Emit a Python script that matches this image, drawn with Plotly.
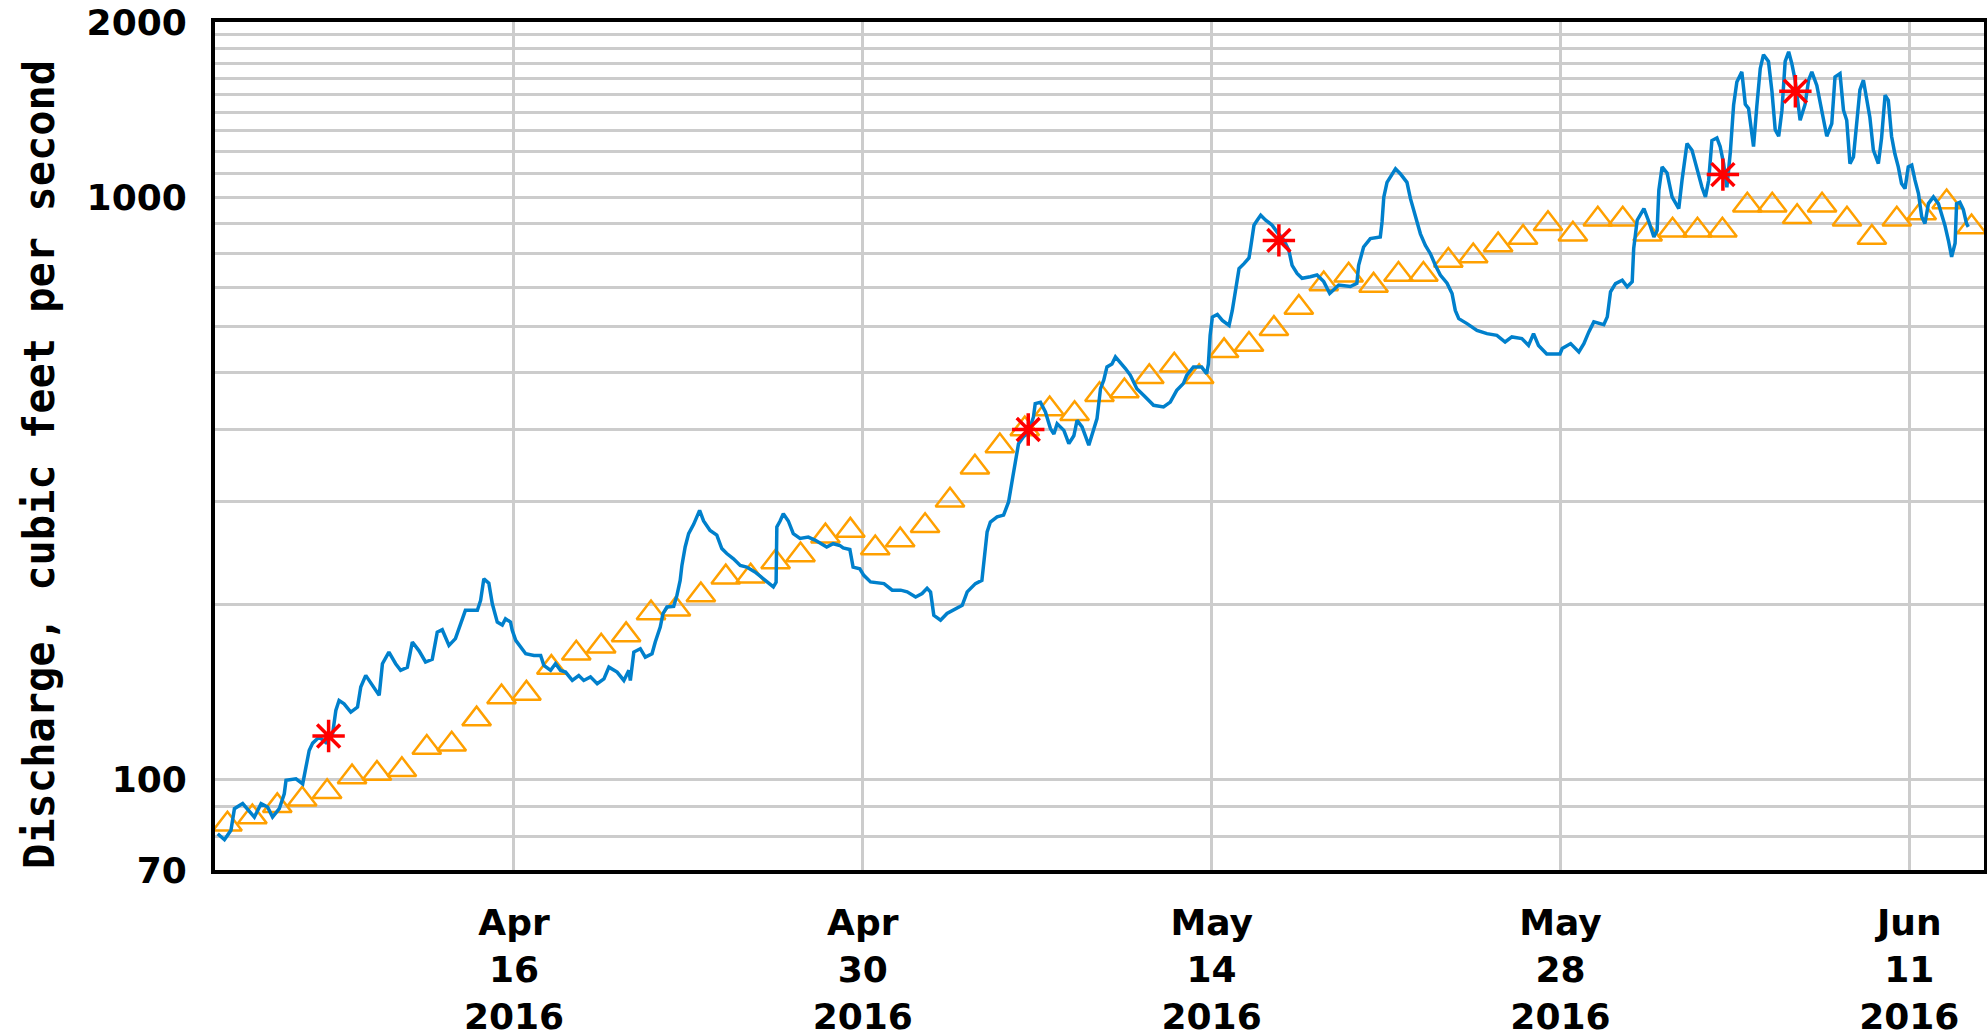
import math
import pandas as pd
import plotly.graph_objects as go

# ---------------- data ----------------
start_date = pd.Timestamp("2016-04-04")

# instantaneous discharge: time in days after start_date, value in cfs
flow_day = [
    0.11, 0.38, 0.64, 0.78, 1.11, 1.38, 1.58, 1.85, 2.11, 2.31, 2.58, 2.78, 2.85, 3.25, 3.52, 3.65,
    3.78, 3.92, 4.18, 4.45, 4.72, 4.85, 4.98, 5.18, 5.45, 5.72, 5.85, 6.05, 6.32, 6.59, 6.72, 6.98,
    7.25, 7.45, 7.72, 7.92, 8.19, 8.45, 8.72, 8.92, 9.12, 9.39, 9.65, 9.85, 10.05, 10.53, 10.66, 10.79,
    10.99, 11.13, 11.33, 11.53, 11.66, 11.86, 11.93, 12.07, 12.27, 12.47, 12.8, 13.07, 13.2, 13.47,
    13.67, 13.87, 14.07, 14.34, 14.6, 14.8, 15.07, 15.34, 15.61, 15.81, 16.14, 16.41, 16.61, 16.67,
    16.81, 17.07, 17.27, 17.54, 17.67, 17.87, 17.98, 18.14, 18.41, 18.54, 18.67, 18.74, 18.87, 19.01,
    19.21, 19.45, 19.61, 19.87, 20.14, 20.34, 20.54, 20.81, 21.08, 21.34, 21.67, 22.01, 22.21, 22.41,
    22.52, 22.55, 22.68, 22.81, 23.01, 23.21, 23.48, 23.81, 24.08, 24.35, 24.55, 24.81, 25.08, 25.21,
    25.48, 25.61, 25.88, 26.04, 26.31, 26.85, 27.18, 27.52, 27.78, 28.12, 28.38, 28.58, 28.72, 28.85,
    29.12, 29.38, 29.65, 29.99, 30.19, 30.52, 30.78, 30.88, 30.99, 31.12, 31.39, 31.65, 31.85, 32.02,
    32.12, 32.25, 32.45, 32.65, 32.85, 32.92, 33.13, 33.33, 33.53, 33.67, 33.8, 34.07, 34.27, 34.47,
    34.6, 34.8, 35.07, 35.27, 35.4, 35.54, 35.67, 35.8, 36.0, 36.14, 36.34, 36.54, 36.74, 37.0,
    37.27, 37.67, 38.07, 38.34, 38.6, 38.87, 39.0, 39.27, 39.6, 39.8, 39.87, 39.94, 40.03, 40.23,
    40.43, 40.7, 40.83, 40.97, 41.1, 41.3, 41.5, 41.57, 41.7, 41.83, 41.97, 42.17, 42.43, 42.63,
    42.9, 43.1, 43.23, 43.43, 43.63, 43.96, 44.23, 44.5, 44.74, 44.9, 45.1, 45.57, 45.83, 45.9,
    46.1, 46.37, 46.77, 46.84, 46.91, 47.04, 47.24, 47.38, 47.58, 47.84, 47.98, 48.18, 48.38, 48.58,
    48.78, 48.98, 49.18, 49.45, 49.65, 49.78, 49.92, 50.25, 50.65, 51.05, 51.45, 51.78, 52.05, 52.45,
    52.72, 52.92, 53.12, 53.45, 53.98, 54.07, 54.41, 54.74, 54.94, 55.14, 55.34, 55.74, 55.88, 56.01,
    56.21, 56.48, 56.68, 56.88, 56.94, 57.08, 57.35, 57.55, 57.75, 57.88, 57.95, 58.08, 58.28, 58.48,
    58.75, 58.88, 59.08, 59.28, 59.48, 59.68, 59.82, 59.95, 60.08, 60.28, 60.41, 60.55, 60.68, 60.82,
    60.95, 61.08, 61.28, 61.42, 61.55, 61.69, 61.75, 61.88, 62.02, 62.15, 62.35, 62.49, 62.62, 62.76,
    62.89, 63.02, 63.16, 63.29, 63.42, 63.62, 63.82, 63.96, 64.09, 64.29, 64.49, 64.69, 64.89, 65.02,
    65.22, 65.36, 65.49, 65.62, 65.76, 65.89, 66.02, 66.16, 66.29, 66.42, 66.56, 66.76, 66.89, 67.03,
    67.16, 67.29, 67.42, 67.56, 67.69, 67.83, 67.96, 68.1, 68.23, 68.37, 68.5, 68.63, 68.77, 68.97,
    69.17, 69.43, 69.57, 69.7, 69.84, 69.9, 70.03, 70.17, 70.3, 70.37,
]
flow_cfs = [
    80.8, 78.9, 81.9, 89.2, 91, 88.2, 86.3, 91, 89.8, 86.3, 89.2, 94.6, 99.8, 100.4, 98.4, 105.1,
    112.3, 115.6, 118.4, 115.9, 119.9, 131.5, 136.8, 135, 130.7, 133.3, 144.3, 151.1, 145, 139.6, 158.2, 165.6,
    158.2, 154.1, 156, 172.4, 166.5, 159.3, 161, 179.3, 181, 170.1, 174.7, 185.3, 195.4, 195.4, 203.2, 221.3,
    217.5, 200.5, 186.5, 184.4, 189, 186.5, 180.5, 173.5, 169, 164.6, 163.5, 163.5, 157.2, 154.1,
    158.3, 154.1, 153.1, 148.1, 151, 148.1, 150.2, 146.2, 149, 156.1, 153.1, 148.1, 154.1, 148.1,
    165.7, 167.9, 162.4, 164.6, 172.4, 182.9, 192.8, 198, 198.5, 207.3, 220, 233.4, 251, 264.6,
    274.5, 290.1, 278.2, 268, 263, 249.5, 244.6, 239.6, 233.4, 231.9, 227.4, 221.4, 217, 214.4,
    218.3, 271.6, 278.2, 286.3, 278.2, 264.6, 259.7, 261, 258, 254.3, 251, 254.3, 252.5, 250,
    248.5, 231.8, 230.3, 224.4, 218.6, 217.2, 211.6, 211.6, 210.2, 206, 208.8, 213.1, 210, 191.6,
    187.9, 193, 195.5, 199.3, 210.2, 217.2, 220, 239.7, 266.4, 277, 282.7, 284.7, 299.9, 331.1,
    353.5, 377.7, 388, 395, 419.7, 442.4, 444.9, 428.2, 400.8, 392.3, 408.6, 398, 377.7, 389.6,
    414, 403.4, 375.3, 398, 416.9, 469.4, 485.3, 511.5, 517.4, 532.2, 520.5, 508.2, 494.8, 469.4,
    457.3, 439.5, 436.6, 445, 466.3, 479.3, 494.8, 511.5, 511.5, 497.9, 517.4, 579.6, 622.9, 629.5,
    614.7, 602.8, 639.5, 701.6, 754.4, 769.4, 786.8, 821.7, 895.7, 913.6, 931.6, 913.6, 895.7, 871.7,
    843.8, 810.8, 764.4, 740.1, 726, 730.7, 735.5, 716.7, 683.9, 694, 707.1, 703, 712, 764.4,
    821.7, 849.4, 855, 907.5, 1000.6, 1061, 1097, 1119, 1097, 1061, 994.6, 925.8, 865.6, 827,
    800.3, 764.4, 735.5, 712, 683.9, 639.5, 619, 607, 591.1, 583.4, 579.6, 564.4, 575.8, 572,
    556.9, 583.4, 556.9, 538.4, 538.4, 550, 560.9, 542.7, 560.9, 587.4, 611.2, 604.4, 623.4, 688.1,
    711.1, 720.6, 702, 716, 816.7, 913.5, 956.6, 908, 855, 876.6, 1028.6, 1128, 1101, 1001.6,
    956.6, 1070, 1237, 1205, 1113, 1040.6, 1001.6, 1070, 1252, 1265, 1222.5, 1142.5, 1040.6, 1197,
    1440, 1578, 1642, 1445, 1420.6, 1273, 1222.5, 1430, 1664.6, 1757.7, 1711, 1519, 1306.5, 1273,
    1411, 1711, 1777.6, 1695, 1589, 1356, 1445, 1589, 1642, 1556, 1411, 1273, 1338, 1610,
    1631, 1411, 1356, 1142.5, 1173, 1338, 1529, 1589, 1488, 1371, 1205, 1142.5, 1265, 1497.6,
    1468, 1273, 1189, 1128, 1056, 1035, 1128, 1136, 1070, 1015, 926, 901.6, 975.6, 1001.6,
    975.6, 895.6, 843.9, 790.4, 834, 975.6, 981, 952.5, 901.6, 890,
]

# median daily statistic, one value per day starting Apr 4
median_cfs = [
    83.9, 86.3, 90.2, 92.6, 95.4, 101.1, 102.5, 104, 113.6, 115.1,
    127.1, 138.7, 140.7, 155.8, 164.9, 169.5, 177.3, 193.4, 196.2, 207.6,
    222.8, 223.5, 236.5, 243.2, 262, 268, 250, 258, 273, 302,
    344, 374, 400, 433, 425, 458, 465, 492, 515, 492,
    545, 559, 595, 647, 710, 735, 706, 737, 737, 779,
    793, 828, 853, 901, 864, 917, 917, 864, 878, 878,
    878, 969, 969, 926, 969, 917, 853, 917, 940, 982, 889,
]

# field measurements
meas_day = [4.56, 32.64, 42.7, 60.52, 63.43]
meas_cfs = [118.9, 399.3, 843.5, 1094, 1521]

# axis ticks
y_grid_vals = [70, 80, 90, 100, 200, 300, 400, 500, 600, 700, 800, 900, 1000,
               1100, 1200, 1300, 1400, 1500, 1600, 1700, 1800, 1900, 2000]
y_labeled = {70: "70", 100: "100", 1000: "1000", 2000: "2000"}
x_tick_dates = ["2016-04-16", "2016-04-30", "2016-05-14", "2016-05-28", "2016-06-11"]
x_tick_text = ["Apr<br>16<br>2016", "Apr<br>30<br>2016", "May<br>14<br>2016",
               "May<br>28<br>2016", "Jun<br>11<br>2016"]
x_range = ["2016-04-04", "2016-06-14"]
y_range = [70, 2000]
y_title = "Discharge, cubic feet per second"

# ---------------- figure ----------------
flow_time = start_date + pd.to_timedelta(flow_day, unit="D")
meas_time = start_date + pd.to_timedelta(meas_day, unit="D")
median_time = pd.date_range(start_date + pd.Timedelta(hours=12), periods=len(median_cfs), freq="D")

BLUE = "#0080cc"
ORANGE = "#ffa000"
RED = "#ff0000"
GRID = "#cccccc"
MONO = "DejaVu Sans Mono"
TICKFONT = "DejaVu Sans"

fig = go.Figure()
fig.add_trace(go.Scatter(
    x=median_time, y=median_cfs, mode="markers",
    marker=dict(symbol="triangle-up-open", size=25, color=ORANGE,
                line=dict(color=ORANGE, width=2.5)),
    name="Median daily statistic",
))
fig.add_trace(go.Scatter(
    x=flow_time, y=flow_cfs, mode="lines",
    line=dict(color=BLUE, width=3.5),
    name="Discharge",
))
fig.add_trace(go.Scatter(
    x=meas_time, y=meas_cfs, mode="markers",
    marker=dict(symbol="asterisk-open", size=27, color=RED,
                line=dict(color=RED, width=3.5)),
    name="Measured discharge",
))

fig.update_layout(
    width=1987, height=1036,
    margin=dict(l=215, r=3, t=22, b=166),
    paper_bgcolor="white", plot_bgcolor="white",
    showlegend=False,
    font=dict(family=MONO, color="black"),
)
# y-axis title, placed beside the axis
fig.add_annotation(
    text=y_title, xref="paper", yref="paper", x=0, y=0.5,
    xanchor="center", yanchor="middle", xshift=-176, yshift=-19,
    textangle=-90, showarrow=False,
    font=dict(family=MONO, size=42, weight="bold", color="black"),
)
fig.update_xaxes(
    type="date", range=x_range, automargin=False,
    tickmode="array", tickvals=x_tick_dates, ticktext=x_tick_text,
    tickfont=dict(family=TICKFONT, size=36, weight="bold", color="black"),
    ticks="", ticklabelstandoff=18, ticklabeloverflow="allow",
    showgrid=True, gridcolor=GRID, gridwidth=3,
    showline=True, linecolor="black", linewidth=4, mirror=True,
    zeroline=False,
)
fig.update_yaxes(
    type="log", range=[math.log10(y_range[0]) - 1e-6, math.log10(y_range[1]) + 1e-6],
    automargin=False,
    tickmode="array", tickvals=y_grid_vals,
    ticktext=[y_labeled.get(v, "") for v in y_grid_vals],
    tickfont=dict(family=TICKFONT, size=36, weight="bold", color="black"),
    ticks="", ticklabelstandoff=17, ticklabeloverflow="allow",
    showgrid=True, gridcolor=GRID, gridwidth=3,
    showline=True, linecolor="black", linewidth=4, mirror=True,
    zeroline=False,
)

fig.write_html(
    "out.html",
    config={"displayModeBar": False},
    post_script="document.body.style.margin='0';document.body.style.padding='0';"
                "document.body.style.overflow='hidden';",
)
